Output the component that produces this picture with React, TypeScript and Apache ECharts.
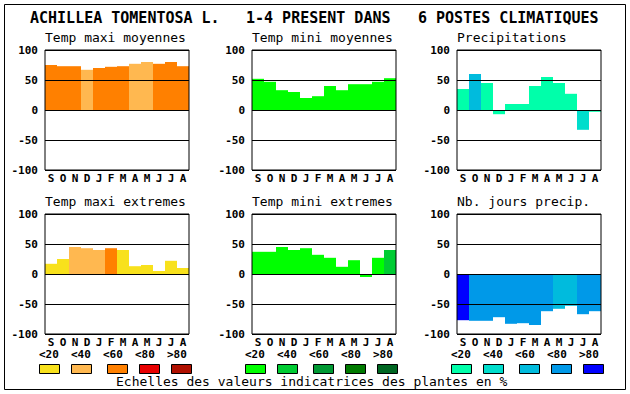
import React, { useEffect, useRef } from "react";
import * as echarts from "echarts";

const MONTHS = ["S", "O", "N", "D", "J", "F", "M", "A", "M", "J", "J", "A"];
const Y_TICKS = [-100, -50, 0, 50, 100];
const LEGEND_LABELS = ["<20", "<40", "<60", "<80", ">80"];

const ORANGES = ["#F8E11C", "#FFB850", "#FF8000", "#E80000", "#B01000"];
const GREENS = ["#00FF00", "#00CC33", "#009933", "#007A00", "#006622"];
const BLUES = ["#00FFAA", "#00DDCC", "#00BBDD", "#0099E8", "#0000FF"];

const TITLE_PARTS = ["ACHILLEA TOMENTOSA L.", "1-4 PRESENT DANS", "6 POSTES CLIMATIQUES"];
const FOOTER = "Echelles des valeurs indicatrices des plantes en %";

const tmaxMoyValues = [75, 73, 73, 67, 70, 72, 73, 77, 80, 77, 80, 73];
const tmaxMoyClass = [2, 2, 2, 1, 2, 2, 2, 1, 1, 2, 2, 2];
const tminMoyValues = [52, 47, 33, 30, 20, 23, 40, 33, 43, 43, 47, 53];
const tminMoyClass = [0, 0, 0, 0, 0, 0, 0, 0, 0, 0, 0, 0];
const precipValues = [35, 60, 45, -7, 10, 10, 40, 55, 45, 27, -33, -3];
const precipClass = [0, 2, 0, 0, 0, 0, 0, 0, 0, 0, 1, 0];
const tmaxExtValues = [17, 25, 45, 43, 40, 43, 40, 13, 15, 5, 22, 10];
const tmaxExtClass = [0, 0, 1, 1, 1, 2, 0, 0, 0, 0, 0, 0];
const tminExtValues = [37, 37, 45, 40, 43, 32, 27, 12, 23, -5, 27, 40];
const tminExtClass = [0, 0, 0, 0, 0, 0, 0, 0, 0, 0, 0, 1];
const nbJoursValues = [-77, -78, -78, -72, -83, -82, -85, -62, -58, -53, -67, -62];
const nbJoursClass = [4, 3, 3, 3, 3, 3, 3, 3, 2, 2, 3, 3];

const PANELS = [
  { title: "Temp maxi moyennes", values: tmaxMoyValues, cls: tmaxMoyClass, palette: ORANGES },
  { title: "Temp mini moyennes", values: tminMoyValues, cls: tminMoyClass, palette: GREENS },
  { title: "Precipitations", values: precipValues, cls: precipClass, palette: BLUES },
  { title: "Temp maxi extremes", values: tmaxExtValues, cls: tmaxExtClass, palette: ORANGES },
  { title: "Temp mini extremes", values: tminExtValues, cls: tminExtClass, palette: GREENS },
  { title: "Nb. jours precip.", values: nbJoursValues, cls: nbJoursClass, palette: BLUES },
];

const COL_LEFT = [45, 252, 457];
const ROW_TOP = [50, 214];
const PW = 144;
const PH = 120;
const MONO = "'DejaVu Sans Mono', monospace";

export default function App() {
  const ref = useRef<HTMLDivElement>(null);
  useEffect(() => {
    if (!ref.current) return;
    const chart = echarts.init(ref.current, undefined, { renderer: "svg" });
    const grids: any[] = [];
    const xAxes: any[] = [];
    const yAxes: any[] = [];
    const series: any[] = [];
    const graphics: any[] = [];

    PANELS.forEach((p, i) => {
      const left = COL_LEFT[i % 3];
      const top = ROW_TOP[Math.floor(i / 3)];
      grids.push({
        left,
        top,
        width: PW,
        height: PH,
        show: true,
        borderColor: "#000",
        borderWidth: 1,
        backgroundColor: "transparent",
        z: 10,
      });
      xAxes.push({
        type: "category",
        gridIndex: i,
        data: MONTHS,
        axisLine: { show: false },
        axisTick: { show: false },
        axisLabel: {
          interval: 0,
          margin: 3,
          color: "#000",
          fontFamily: MONO,
          fontWeight: "bold",
          fontSize: 11,
        },
      });
      yAxes.push({
        type: "value",
        gridIndex: i,
        min: Y_TICKS[0],
        max: Y_TICKS[Y_TICKS.length - 1],
        interval: 50,
        z: 10,
        axisLine: { show: false },
        axisTick: { show: false },
        splitLine: { show: true, lineStyle: { color: "#000", width: 1, type: "solid" } },
        axisLabel: {
          margin: 7,
          color: "#000",
          fontFamily: MONO,
          fontWeight: "bold",
          fontSize: 11,
        },
      });
      series.push({
        type: "bar",
        xAxisIndex: i,
        yAxisIndex: i,
        barCategoryGap: "0%",
        data: p.values.map((v, k) => ({
          value: v,
          itemStyle: { color: p.palette[p.cls[k]] },
        })),
      });
      graphics.push({
        type: "text",
        left: left,
        top: top - 19,
        style: { text: p.title, font: `13px ${MONO}`, fill: "#000" },
      });
    });

    // title
    const titleX = [30, 246, 418];
    TITLE_PARTS.forEach((t, k) => {
      graphics.push({
        type: "text",
        left: titleX[k],
        top: 10,
        style: { text: t, font: `bold 15px ${MONO}`, fill: "#000" },
      });
    });

    // legend
    const groupX = [39, 245, 451];
    const boxOff = [0, 32, 68, 100, 132];
    const labOff = [0, 32, 64, 96, 128];
    const palettes = [ORANGES, GREENS, BLUES];
    palettes.forEach((pal, g) => {
      pal.forEach((c, k) => {
        graphics.push({
          type: "text",
          left: groupX[g] + labOff[k],
          top: 349,
          style: { text: LEGEND_LABELS[k], font: `bold 11px ${MONO}`, fill: "#000" },
        });
        graphics.push({
          type: "rect",
          shape: { x: groupX[g] + boxOff[k] + 0.5, y: 364.5, width: 20, height: 9 },
          style: { fill: c, stroke: "#000", lineWidth: 1 },
        });
      });
    });

    graphics.push({
      type: "text",
      left: 116,
      top: 375,
      style: { text: FOOTER, font: `13px ${MONO}`, fill: "#000" },
    });

    graphics.push({
      type: "rect",
      shape: { x: 4.5, y: 4.5, width: 621, height: 385 },
      style: { fill: "none", stroke: "#000", lineWidth: 1 },
      z: -1,
    });

    chart.setOption({
      animation: false,
      backgroundColor: "#fff",
      grid: grids,
      xAxis: xAxes,
      yAxis: yAxes,
      series,
      graphic: graphics,
    });
    return () => chart.dispose();
  }, []);
  return (
    <div
      ref={ref}
      style={{ position: "absolute", left: 0, top: 0, width: 630, height: 394 }}
    />
  );
}
